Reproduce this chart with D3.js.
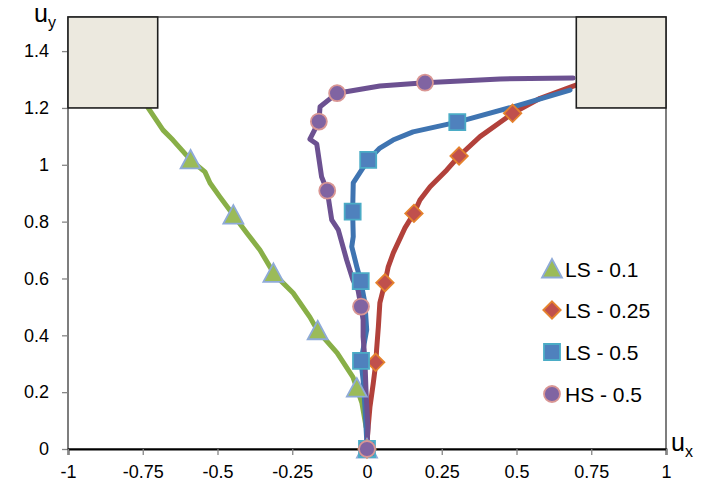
<!DOCTYPE html>
<html><head><meta charset="utf-8">
<script src="https://cdn.jsdelivr.net/npm/d3@7"></script>
<style>html,body{margin:0;padding:0;background:#fff;}svg{display:block;}</style>
</head><body>
<svg id="chart" width="709" height="485"></svg>
<script>
// ---------- data ----------
const xTicks = [-1, -0.75, -0.5, -0.25, 0, 0.25, 0.5, 0.75, 1];
const xTickLabels = ["-1", "-0.75", "-0.5", "-0.25", "0", "0.25", "0.5", "0.75", "1"];
const yTicks = [0, 0.2, 0.4, 0.6, 0.8, 1, 1.2, 1.4];
const yTickLabels = ["0", "0.2", "0.4", "0.6", "0.8", "1", "1.2", "1.4"];
const seriesNames = ["LS - 0.1", "LS - 0.25", "LS - 0.5", "HS - 0.5"];

// obstacle boxes [x0, x1, y0, y1]
const leftBox = [-1, -0.7, 1.2, 1.52];
const rightBox = [0.7, 1, 1.2, 1.52];

const ls01Line = [[-0.732,1.200],[-0.682,1.122],[-0.649,1.087],[-0.590,1.017],[-0.542,0.975],[-0.525,0.936],
  [-0.492,0.887],[-0.447,0.823],[-0.402,0.760],[-0.358,0.700],[-0.324,0.640],[-0.313,0.618],[-0.247,0.549],
  [-0.191,0.464],[-0.165,0.416],[-0.100,0.338],[-0.047,0.253],[-0.034,0.214],[-0.017,0.162],[-0.003,0.077]];
const ls01Markers = [[-0.590,1.017],[-0.447,0.823],[-0.313,0.618],[-0.165,0.416],[-0.034,0.214],[0,0]];

const ls025Line = [[0.701,1.281],[0.579,1.234],[0.487,1.181],[0.378,1.099],[0.308,1.031],[0.267,0.982],
  [0.211,0.923],[0.177,0.876],[0.157,0.829],[0.127,0.778],[0.088,0.690],[0.071,0.641],[0.060,0.585],
  [0.043,0.514],[0.038,0.430],[0.032,0.348],[0.030,0.307],[0.021,0.232],[0.010,0.149],[0.004,0.078],[-0.001,0.008]];
const ls025Markers = [[0.487,1.181],[0.308,1.031],[0.157,0.829],[0.060,0.585],[0.029,0.305],[0,0]];

const ls05Line = [[0.679,1.263],[0.489,1.204],[0.302,1.150],[0.154,1.116],[0.087,1.087],[0.043,1.059],
  [0.004,1.017],[-0.046,0.936],[-0.048,0.835],[-0.046,0.747],[-0.051,0.712],[-0.034,0.641],[-0.021,0.591],
  [-0.007,0.514],[-0.001,0.419],[-0.020,0.310],[-0.013,0.243],[-0.007,0.151],[-0.001,0.032]];
const ls05Markers = [[0.302,1.150],[0.004,1.017],[-0.048,0.835],[-0.021,0.591],[-0.020,0.310],[0,0]];

const hs05Line = [[0.689,1.305],[0.445,1.302],[0.194,1.289],[0.043,1.277],[-0.100,1.252],[-0.157,1.204],
  [-0.161,1.152],[-0.191,1.090],[-0.168,1.073],[-0.152,0.958],[-0.133,0.909],[-0.118,0.806],[-0.096,0.771],
  [-0.068,0.665],[-0.047,0.595],[-0.030,0.559],[-0.020,0.501],[-0.013,0.454],[-0.013,0.395],[-0.007,0.313],
  [-0.003,0.197],[0.003,0.077],[0,0.008]];
const hs05Markers = [[0.194,1.289],[-0.100,1.252],[-0.161,1.152],[-0.133,0.909],[-0.020,0.501],[0,0]];

// ---------- layout / styles ----------
const FONT = "'Liberation Sans', Arial, sans-serif";
const svg = d3.select("#chart");
const x = d3.scaleLinear().domain([-1, 1]).range([68, 666]);
const y = d3.scaleLinear().domain([0, 1.52]).range([449, 17]);

const styles = [
  {line:"#88AF47", fill:"#9BBB59", stroke:"#8EAAD8", shape:"triangle"},
  {line:"#B2413B", fill:"#C0504D", stroke:"#E5822D", shape:"diamond"},
  {line:"#3F74B1", fill:"#4F81BD", stroke:"#4BACC6", shape:"square"},
  {line:"#6C5191", fill:"#8064A2", stroke:"#D99694", shape:"circle"}
];
const lines = [ls01Line, ls025Line, ls05Line, hs05Line];
const markers = [ls01Markers, ls025Markers, ls05Markers, hs05Markers];

function shapePath(shape) {
  if (shape === "triangle") return "M0,-10L10,8.5L-10,8.5Z";
  if (shape === "diamond") return "M0,-8.7L8.7,0L0,8.7L-8.7,0Z";
  if (shape === "square") return "M-8,-8H8V8H-8Z";
  return d3.symbol(d3.symbolCircle, Math.PI * 8 * 8)();
}

// plot border
svg.append("rect").attr("x", x(-1)).attr("y", y(1.52))
  .attr("width", x(1) - x(-1)).attr("height", y(0) - y(1.52))
  .attr("fill", "none").attr("stroke", "#3a3a3a").attr("stroke-width", 1.3);

// y axis ticks
const yAxis = d3.axisLeft(y).tickValues(yTicks).tickSize(6)
  .tickFormat((d, i) => yTickLabels[i]).tickPadding(13);
const gy = svg.append("g").attr("transform", `translate(${x(-1)},0)`).call(yAxis);
gy.select(".domain").remove();
gy.selectAll(".tick line").attr("stroke", "#868686").attr("stroke-width", 1.3);
gy.selectAll(".tick text").attr("font-family", FONT).attr("font-size", 18).attr("fill", "#000");

// x axis ticks
const gx = svg.append("g").attr("transform", `translate(0,${y(0)})`)
  .call(d3.axisBottom(x).tickValues(xTicks).tickSize(6).tickPadding(10)
  .tickFormat((d, i) => xTickLabels[i]));
gx.select(".domain").attr("stroke", "#000").attr("stroke-width", 1.8);
gx.selectAll(".tick line").attr("stroke", "#868686").attr("stroke-width", 1.3);
gx.selectAll(".tick text").attr("font-family", FONT).attr("font-size", 18).attr("fill", "#000");

// series lines
const lineGen = d3.line().x(d => x(d[0])).y(d => y(d[1]));
lines.forEach((ln, i) => {
  svg.append("path").datum(ln).attr("d", lineGen).attr("fill", "none")
    .attr("stroke", styles[i].line).attr("stroke-width", 5)
    .attr("stroke-linejoin", "round").attr("stroke-linecap", "round");
});
// series markers
markers.forEach((mk, i) => {
  svg.append("g").selectAll("path").data(mk).join("path")
    .attr("d", shapePath(styles[i].shape))
    .attr("transform", d => `translate(${x(d[0])},${y(d[1])})`)
    .attr("fill", styles[i].fill).attr("stroke", styles[i].stroke).attr("stroke-width", 1.8);
});

// obstacle boxes
[leftBox, rightBox].forEach(b => {
  svg.append("rect").attr("x", x(b[0])).attr("y", y(b[3]))
    .attr("width", x(b[1]) - x(b[0])).attr("height", y(b[2]) - y(b[3]))
    .attr("fill", "#ECE9DF").attr("stroke", "#1e1e1e").attr("stroke-width", 1.6);
});

// legend
const legendY = [269, 310, 352, 394];
seriesNames.forEach((name, i) => {
  svg.append("path").attr("d", shapePath(styles[i].shape))
    .attr("transform", `translate(552,${legendY[i]})`)
    .attr("fill", styles[i].fill).attr("stroke", styles[i].stroke).attr("stroke-width", 1.8);
  svg.append("text").attr("x", 565).attr("y", legendY[i]).attr("dy", "0.36em")
    .attr("font-family", FONT).attr("font-size", 21).attr("fill", "#000").text(name);
});

// axis titles
const ty = svg.append("text").attr("x", 34).attr("y", 22).attr("font-family", FONT).attr("font-size", 25).attr("fill", "#000");
ty.append("tspan").text("u");
ty.append("tspan").attr("font-size", 16).attr("dy", 6).text("y");
const tx = svg.append("text").attr("x", 671).attr("y", 451).attr("font-family", FONT).attr("font-size", 25).attr("fill", "#000");
tx.append("tspan").text("u");
tx.append("tspan").attr("font-size", 16).attr("dy", 6).text("x");
</script>
</body></html>
